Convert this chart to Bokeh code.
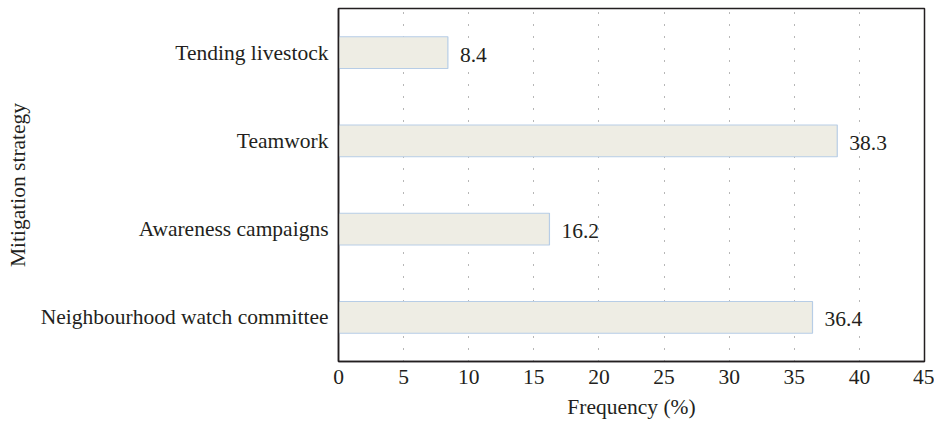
from bokeh.plotting import figure
from bokeh.models import ColumnDataSource, FixedTicker
from bokeh.core.properties import value
from bokeh.embed import file_html
from bokeh.resources import INLINE

categories = ["Neighbourhood watch committee", "Awareness campaigns", "Teamwork", "Tending livestock"]
frequency = [36.4, 16.2, 38.3, 8.4]
labels = ["36.4", "16.2", "38.3", "8.4"]
x_ticks = [0, 5, 10, 15, 20, 25, 30, 35, 40, 45]

FONT = "Liberation Serif"
TXT = "#231f20"
FS = "21.5px"

src = ColumnDataSource(dict(cat=categories, val=frequency, lab=labels))

p = figure(width=934, height=423, y_range=categories, x_range=(0, 45),
           output_backend="svg", toolbar_location=None,
           min_border_left=338, min_border_right=10, min_border_top=8, min_border_bottom=62)

p.hbar(y="cat", right="val", left=0, height=0.36, source=src,
       fill_color="#eeede4", line_color="#b7cde6", line_width=1.2)

p.text(x="val", y="cat", text="lab", source=src, x_offset=12, y_offset=2,
       text_baseline="middle", text_align="left",
       text_font=value(FONT), text_font_size=FS, text_color=TXT)

p.xaxis.ticker = FixedTicker(ticks=x_ticks)
p.xaxis.axis_label = "Frequency (%)"
p.yaxis.axis_label = "Mitigation strategy"
for ax in (p.xaxis[0], p.yaxis[0]):
    ax.axis_label_text_font = FONT
    ax.axis_label_text_font_style = "normal"
    ax.axis_label_text_font_size = FS
    ax.axis_label_text_color = TXT
    ax.major_label_text_font = FONT
    ax.major_label_text_font_size = FS
    ax.major_label_text_color = TXT
    ax.major_tick_line_color = None
    ax.minor_tick_line_color = None
    ax.axis_line_color = "#231f20"
    ax.axis_line_width = 1.5
p.xaxis.major_label_standoff = 2
p.yaxis.major_label_standoff = 4
p.xaxis.axis_label_standoff = 8
p.yaxis.axis_label_standoff = 8

p.ygrid.grid_line_color = None
p.xgrid.grid_line_color = "#6e6e6e"
p.xgrid.grid_line_dash = "1 11"
p.xgrid.grid_line_width = 1

p.outline_line_color = "#231f20"
p.outline_line_width = 1.5
p.background_fill_color = "white"
p.border_fill_color = "white"

open("out.html", "w").write(file_html(p, INLINE))
